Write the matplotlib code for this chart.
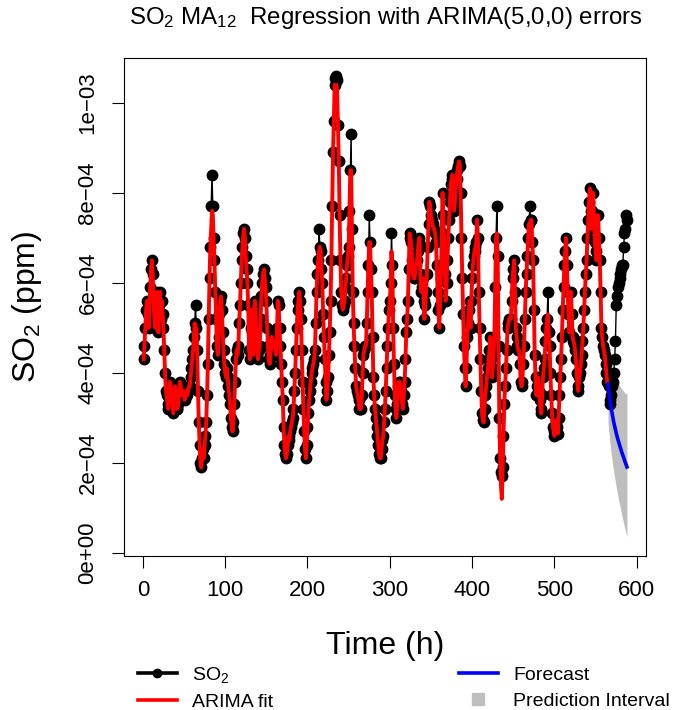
import numpy as np
import matplotlib
matplotlib.use('Agg')
import matplotlib.pyplot as plt
from matplotlib.lines import Line2D

plt.rcParams['font.family'] = ['Liberation Sans', 'DejaVu Sans']
plt.rcParams['mathtext.fontset'] = 'custom'
plt.rcParams['mathtext.rm'] = 'Liberation Sans'
plt.rcParams['mathtext.default'] = 'regular'

# hourly SO2 (MA12), in units of 1e-4 ppm, hours 1..588
so2 = [
    4.3, 4.6, 5.0, 5.4, 5.6, 5.3, 5.0, 5.5, 5.9, 6.3, 6.5, 6.2,
    5.6, 5.2, 5.0, 5.4, 5.8, 5.3, 4.9, 5.5, 5.8, 5.2, 5.6, 5.3,
    5.0, 4.5, 4.0, 3.6, 3.5, 3.3, 3.2, 3.5, 3.8, 3.7, 3.5, 3.3,
    3.1, 3.4, 3.7, 3.5, 3.2, 3.2, 3.3, 3.6, 3.8, 3.7, 3.5, 3.6,
    3.6, 3.5, 3.4, 3.5, 3.6, 3.5, 3.6, 3.7, 3.7, 3.9, 4.1, 4.3,
    4.5, 4.8, 5.1, 5.5, 5.0, 4.5, 3.6, 2.9, 2.4, 2.0, 1.9, 2.1,
    2.3, 2.1, 2.4, 2.6, 2.9, 3.5, 4.2, 5.2, 6.1, 6.8, 7.7, 8.4,
    7.7, 7.0, 6.5, 5.8, 5.2, 4.6, 4.4, 4.8, 5.3, 5.6, 5.7, 5.4,
    4.9, 4.5, 4.2, 4.0, 3.9, 4.1, 3.9, 3.7, 3.5, 3.3, 3.0, 2.8,
    2.7, 2.9, 3.3, 3.8, 4.3, 4.5, 4.4, 4.6, 5.1, 5.5, 6.0, 6.5,
    6.8, 7.1, 7.2, 7.0, 6.6, 6.3, 6.0, 5.5, 4.5, 4.3, 5.0, 5.4,
    4.9, 4.4, 5.0, 5.6, 5.4, 4.9, 4.4, 4.3, 4.5, 4.6, 5.2, 5.7,
    6.0, 6.2, 6.3, 6.1, 5.9, 5.6, 5.0, 4.6, 4.3, 4.2, 4.4, 4.6,
    4.8, 4.7, 4.6, 4.6, 4.5, 4.4, 5.0, 5.6, 5.5, 5.0, 4.6, 4.2,
    3.8, 3.4, 2.8, 2.4, 2.2, 2.1, 2.2, 2.4, 2.6, 2.5, 2.7, 2.8,
    2.9, 3.0, 3.2, 3.6, 4.0, 4.5, 5.0, 5.4, 5.6, 5.8, 5.6, 5.2,
    4.5, 3.8, 3.2, 2.7, 2.3, 2.1, 2.4, 2.8, 3.1, 3.4, 3.6, 3.8,
    4.0, 4.1, 4.2, 4.3, 4.5, 5.1, 5.8, 6.2, 6.5, 7.2, 6.8, 6.7,
    6.3, 6.0, 5.3, 4.8, 4.3, 3.8, 3.4, 3.6, 3.9, 4.4, 4.9, 5.6,
    6.5, 7.7, 8.9, 9.6, 10.4, 10.55, 10.6, 10.5, 9.5, 8.7, 7.5, 6.5,
    5.8, 5.5, 5.4, 5.5, 5.6, 5.9, 6.1, 6.4, 6.6, 6.8, 7.6, 8.5,
    9.3, 7.2, 5.8, 5.1, 4.6, 4.1, 3.7, 3.6, 3.5, 3.4, 3.2, 3.2,
    3.2, 3.5, 4.0, 4.4, 4.5, 4.6, 4.6, 5.1, 5.8, 6.4, 7.5, 6.9,
    6.3, 5.8, 4.8, 3.9, 3.5, 3.2, 3.0, 2.8, 2.6, 2.4, 2.2, 2.1,
    2.1, 2.3, 2.5, 2.6, 2.9, 3.2, 3.6, 4.1, 4.6, 5.0, 5.4, 5.6,
    6.0, 7.1, 6.4, 5.0, 4.2, 3.5, 3.2, 3.0, 3.3, 3.7, 3.8, 3.8,
    3.6, 3.5, 3.3, 3.2, 3.5, 3.8, 4.3, 4.9, 5.2, 5.6, 6.3, 7.1,
    7.0, 6.9, 6.5, 6.2, 6.1, 6.1, 6.3, 6.4, 6.5, 6.7, 6.9, 7.0,
    6.2, 5.8, 5.9, 6.1, 5.6, 5.2, 5.5, 5.8, 6.2, 6.8, 7.3, 7.8,
    7.7, 7.5, 7.4, 7.3, 7.2, 7.2, 7.1, 6.9, 6.4, 5.8, 5.4, 5.0,
    5.5, 6.1, 7.1, 8.0, 7.5, 6.9, 6.2, 5.6, 6.0, 6.5, 7.0, 7.4,
    7.8, 8.2, 8.3, 8.4, 8.0, 7.6, 7.8, 8.1, 8.3, 8.5, 8.6, 8.7,
    8.6, 8.0, 7.0, 6.1, 5.3, 4.6, 4.1, 3.7, 4.1, 4.8, 5.1, 5.4,
    5.6, 5.0, 5.6, 6.1, 6.4, 6.6, 6.7, 6.8, 6.9, 7.4, 7.0, 5.8,
    5.0, 4.3, 3.6, 3.1, 2.95, 2.9, 3.2, 3.5, 3.7, 3.9, 4.1, 4.3,
    4.5, 4.8, 4.3, 3.9, 4.1, 4.4, 4.8, 5.9, 7.0, 7.7, 6.6, 4.6,
    3.0, 2.1, 1.8, 1.7, 1.9, 2.6, 3.3, 3.7, 4.1, 4.5, 5.0, 5.1,
    5.2, 5.2, 5.2, 5.6, 6.1, 6.3, 6.5, 5.8, 5.0, 4.8, 4.6, 4.5,
    4.5, 4.2, 3.8, 3.7, 3.8, 4.2, 4.6, 5.2, 5.8, 6.2, 6.6, 7.0,
    7.3, 7.7, 7.4, 7.4, 6.9, 6.5, 5.4, 4.4, 3.9, 3.5, 3.7, 3.9,
    3.6, 3.4, 3.2, 3.1, 3.5, 3.9, 4.1, 4.3, 4.7, 5.0, 5.2, 5.8,
    4.9, 4.6, 4.0, 3.5, 3.1, 2.8, 2.7, 2.6, 2.8, 2.95, 2.8, 2.65,
    3.0, 3.5, 3.9, 4.3, 4.8, 5.4, 5.9, 6.4, 6.7, 7.0, 6.4, 5.8,
    5.3, 4.9, 5.3, 5.8, 5.3, 4.8, 4.7, 4.65, 4.5, 4.3, 4.0, 3.7,
    3.6, 3.9, 4.0, 4.2, 4.4, 4.7, 5.0, 5.4, 5.8, 6.2, 6.5, 7.0,
    7.4, 7.8, 8.1, 7.6, 7.2, 7.6, 8.0, 7.4, 6.9, 6.7, 6.5, 7.5,
    7.5, 7.0, 6.5, 5.8, 5.0, 4.8, 4.6, 4.5, 4.4, 4.2, 4.0, 3.8,
    4.0, 3.7, 3.4, 3.3, 3.5, 3.7, 3.8, 4.0, 4.3, 4.7, 5.5, 5.7,
    5.9, 6.0, 6.1, 6.2, 6.3, 6.4, 6.4, 6.8, 7.1, 7.2, 7.5, 7.4,
]

# ARIMA fit covers hours 1..564; it matches the series except at these hours
fit_end = 564
fit_diff = {64: 4.9, 83: 7.2, 84: 7.6, 85: 7.5, 164: 5.6, 214: 6.7,
            234: 10.4, 235: 10.4, 236: 10.3, 253: 8.5, 275: 6.9, 302: 6.7,
            430: 7.1, 435: 1.5, 436: 1.2, 437: 1.8, 470: 7.3, 492: 5.3}

# 24 h forecast (hours 565..588) and prediction interval, 1e-4 ppm
forecast = [3.75, 3.6, 3.45, 3.32, 3.2, 3.1, 3.0, 2.9, 2.82, 2.74, 2.66, 2.59,
            2.52, 2.46, 2.4, 2.34, 2.28, 2.22, 2.17, 2.12, 2.06, 2.01, 1.96, 1.91]
pi_upper = [4.6, 4.5, 4.4, 4.3, 4.22, 4.15, 4.08, 4.02, 3.97, 3.92, 3.87, 3.83,
            3.79, 3.75, 3.72, 3.69, 3.66, 3.63, 3.61, 3.59, 3.57, 3.55, 3.54, 3.53]
pi_lower = [2.9, 2.7, 2.5, 2.34, 2.18, 2.05, 1.92, 1.8, 1.68, 1.57, 1.46, 1.36,
            1.26, 1.17, 1.08, 0.99, 0.9, 0.82, 0.74, 0.66, 0.58, 0.5, 0.43, 0.36]

ytick_vals = [0, 2e-4, 4e-4, 6e-4, 8e-4, 1e-3]
ytick_labels = ['0e+00', '2e\u221204', '4e\u221204', '6e\u221204', '8e\u221204', '1e\u221203']
xtick_vals = [0, 100, 200, 300, 400, 500, 600]

scale = 1e-4
hours = np.arange(1, len(so2) + 1)
obs = np.array(so2) * scale
fit = np.array(so2[:fit_end]) * scale
for h, v in fit_diff.items():
    fit[h - 1] = v * scale
fc_hours = np.arange(fit_end + 1, fit_end + 1 + len(forecast))

W, H = 678, 710
fig = plt.figure(figsize=(W / 100, H / 100), dpi=100)
left, right, top, bottom = 124.3, 646.3, 57.8, 555.6
ax = fig.add_axes([left / W, 1 - bottom / H, (right - left) / W, (bottom - top) / H])

ax.fill_between(fc_hours, np.array(pi_lower) * scale, np.array(pi_upper) * scale,
                color='#BEBEBE', lw=0, zorder=1)
ax.plot(hours, obs, color='black', lw=1, marker='o', ms=7.5, zorder=2)
ax.plot(hours[:fit_end], fit, color='red', lw=2.8, zorder=3)
ax.plot(fc_hours, np.array(forecast) * scale, color='blue', lw=2.6, zorder=4)

ax.set_xlim(-22.5, 611.5)
ax.set_ylim(-0.06e-4, 11.0e-4)
ax.set_xticks(xtick_vals)
ax.set_yticks(ytick_vals)
ax.set_yticklabels(ytick_labels, rotation=90, va='center')
ax.tick_params(direction='out', length=8.6, width=0.8, labelsize=16)
ax.tick_params(axis='x', pad=9)
ax.tick_params(axis='y', pad=10)
for s in ax.spines.values():
    s.set_linewidth(0.8)

cx = (left + right) / 2 / W
fig.text(cx, 1 - 18 / H, r'SO$_2$ MA$_{12}$  Regression with ARIMA(5,0,0) errors',
         ha='center', va='center', fontsize=17.3)
fig.text(cx, 1 - 646 / H, 'Time (h)', ha='center', va='center', fontsize=23)
fig.text(27.5 / W, 1 - (top + bottom) / 2 / H, r'SO$_2$ (ppm)', ha='center', va='center',
         rotation=90, fontsize=23)

h_obs = Line2D([], [], color='black', lw=2.6, marker='o', ms=6)
h_fit = Line2D([], [], color='red', lw=2.6)
h_fc = Line2D([], [], color='blue', lw=2.6)
h_pi = Line2D([], [], color='#BEBEBE', ls='none', marker='s', ms=8)
leg_kw = dict(frameon=False, fontsize=14, handlelength=2.0, handletextpad=0.8,
              labelspacing=0.42, borderpad=0, borderaxespad=0, loc='center left')
fig.legend([h_obs, h_fit], [r'SO$_2$', 'ARIMA fit'],
           bbox_to_anchor=(138 / W, 1 - 688 / H), **leg_kw)
fig.legend([h_fc, h_pi], ['Forecast', 'Prediction Interval'],
           bbox_to_anchor=(459 / W, 1 - 688 / H), **leg_kw)

fig.savefig('out.png', dpi=100)
